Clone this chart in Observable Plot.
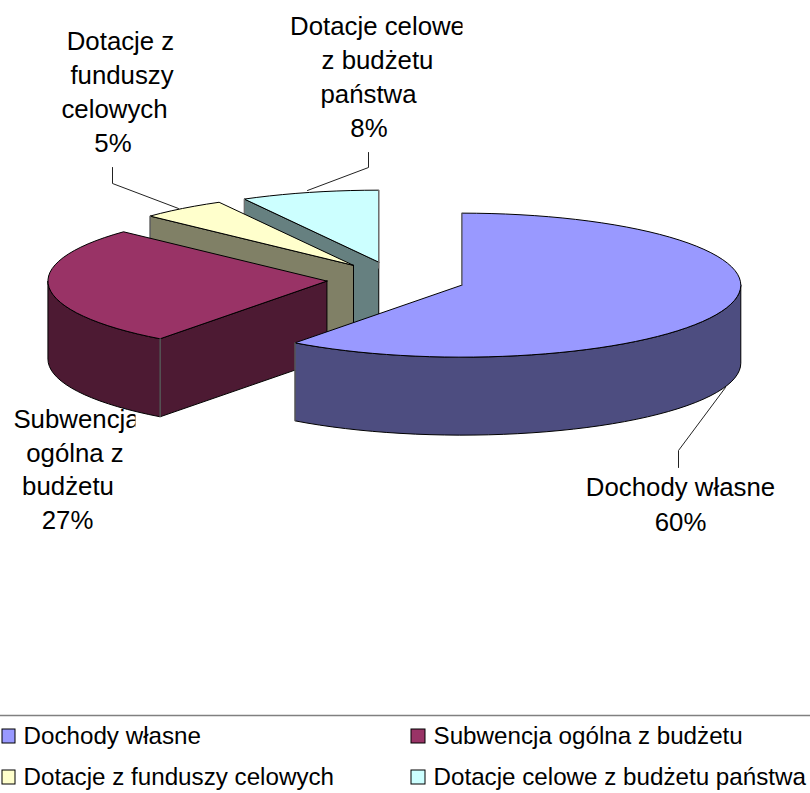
<!DOCTYPE html>
<html lang="pl">
<head>
<meta charset="utf-8">
<script src="https://cdn.jsdelivr.net/npm/d3@7"></script>
<script src="https://cdn.jsdelivr.net/npm/@observablehq/plot@0.6"></script>
<style>
html,body{margin:0;padding:0;background:#fff}
svg{display:block}
</style>
</head>
<body>
<div id="chart"></div>
<script>
// Data
const categories = ["Dochody własne", "Subwencja ogólna z budżetu", "Dotacje z funduszy celowych", "Dotacje celowe z budżetu państwa"];
const shares = [60.2, 26.8, 5, 8];
const topColors = ["#9999FF", "#993366", "#FFFFCC", "#CCFFFF"];
const wallColors = ["#4D4D80", "#4D1A33", "#808066", "#668080"];

// Pie layout
const cx = 395.5, cy = 279, rx = 279, ry = 72, depth = 78, explode = 0.2485;

// Data-label lines: [text, centre x, baseline y, clip right edge]
const labelLines = [
  ["Dotacje z", 120, 49], ["funduszy", 121.5, 83], ["celowych", 114, 117], ["5%", 112.5, 151],
  ["Dotacje celowe", 377, 34, 462], ["z budżetu", 377, 68], ["państwa", 368, 102], ["8%", 368.5, 136],
  ["Subwencja", 76, 427, 135], ["ogólna z", 74.5, 461], ["budżetu", 67.5, 494], ["27%", 67, 528],
  ["Dochody własne", 680, 495], ["60%", 680, 530]
];
const leaders = [
  [[112, 167], [112, 183], [178, 208]],
  [[368, 152], [368, 167], [307, 190]],
  [[678, 467], [678, 450], [725, 387]]
];
const legendX = [[2, 15, 23], [411, 425, 433], [2, 15, 23], [411, 425, 433]];
const legendY = [[729, 743, 743], [729, 743, 743], [770, 784, 784], [770, 784, 784]];
const labelSize = 25.8, legendSize = 24.2, font = "Liberation Sans, Arial, sans-serif";

// Slices computed from the shares
const total = d3.sum(shares);
let running = 0;
const slices = shares.map((v, i) => {
  const a0 = running / total * 360;
  running += v;
  const a1 = running / total * 360;
  const mid = (a0 + a1) / 2 * Math.PI / 180;
  return {i, a0, a1, ax: cx + explode * rx * Math.sin(mid), ay: cy - explode * ry * Math.cos(mid)};
});
const rim = (s, deg, dz = 0) => {
  const t = deg * Math.PI / 180;
  return [s.ax + rx * Math.sin(t), s.ay - ry * Math.cos(t) + dz];
};
const arc = (s, a0, a1, dz = 0) => {
  const n = Math.max(2, Math.round((a1 - a0) / 3));
  return d3.range(n + 1).map(k => rim(s, a0 + (a1 - a0) * k / n, dz));
};
const poly = (pts, fill) => Plot.line([...pts, pts[0]], {
  x: d => d[0], y: d => d[1], fill, stroke: "#000", strokeWidth: 1, curve: "linear", strokeLinejoin: "round"
});
const edge = (p, q) => Plot.line([p, q], {x: d => d[0], y: d => d[1], stroke: "#808080", strokeWidth: 1});

const pieMarks = [3, 2, 1, 0].flatMap(i => {
  const s = slices[i], m = [];
  const apex = [s.ax, s.ay], apexLow = [s.ax, s.ay + depth];
  if (s.a0 > 180 && s.a0 < 360) {
    m.push(poly([apex, rim(s, s.a0), rim(s, s.a0, depth), apexLow], wallColors[i]));
  }
  const w0 = Math.max(s.a0, 90), w1 = Math.min(s.a1, 270);
  if (w1 > w0) {
    m.push(poly([...arc(s, w0, w1), ...arc(s, w0, w1, depth).reverse()], wallColors[i]));
  }
  m.push(poly([apex, ...arc(s, s.a0, s.a1)], topColors[i]));
  if (s.a0 > 180) m.push(edge(rim(s, s.a0), rim(s, s.a0, depth)));
  if (i === 0) m.push(edge(rim(s, s.a1), rim(s, s.a1, depth)), edge(apex, rim(s, 0)));
  if (i === 3) m.push(edge(rim(s, 360), rim(s, 360, depth)));
  return m;
});

const clipRight = xMax => (index, scales, values, dims, ctx, next) => {
  const g = next(index, scales, values, dims, ctx);
  const ns = "http://www.w3.org/2000/svg";
  const id = "clip" + Math.round(xMax);
  const cp = document.createElementNS(ns, "clipPath");
  cp.setAttribute("id", id);
  const r = document.createElementNS(ns, "rect");
  r.setAttribute("x", 0); r.setAttribute("y", 0);
  r.setAttribute("width", xMax); r.setAttribute("height", dims.height);
  cp.append(r);
  g.append(cp);
  g.setAttribute("clip-path", `url(#${id})`);
  return g;
};

const labelMarks = labelLines.map(d => Plot.text([d], {
  x: l => l[1], y: l => l[2], text: l => l[0],
  fontFamily: font, fontSize: labelSize, fill: "#000",
  dy: -0.32 * labelSize,
  render: d[3] ? clipRight(d[3]) : undefined
}));

const legendMarks = categories.flatMap((c, i) => [
  Plot.rect([c], {
    x1: () => legendX[i][0], x2: () => legendX[i][1], y1: () => legendY[i][0], y2: () => legendY[i][1],
    fill: topColors[i], stroke: "#000", strokeWidth: 1
  }),
  Plot.text([c], {
    x: () => legendX[i][2], y: () => legendY[i][2], text: d => d, textAnchor: "start",
    fontFamily: font, fontSize: legendSize, fill: "#000", dy: -0.32 * legendSize
  })
]);

const chart = Plot.plot({
  width: 810, height: 793,
  margin: 0,
  x: {domain: [0, 810], range: [0, 810], axis: null},
  y: {domain: [0, 793], range: [0, 793], axis: null},
  marks: [
    ...pieMarks,
    ...leaders.map(l => Plot.line(l, {x: d => d[0], y: d => d[1], stroke: "#222", strokeWidth: 1})),
    ...labelMarks,
    Plot.ruleY([715], {stroke: "#808080", strokeWidth: 1.5}),
    ...legendMarks
  ]
});
document.getElementById("chart").append(chart);
</script>
</body>
</html>
